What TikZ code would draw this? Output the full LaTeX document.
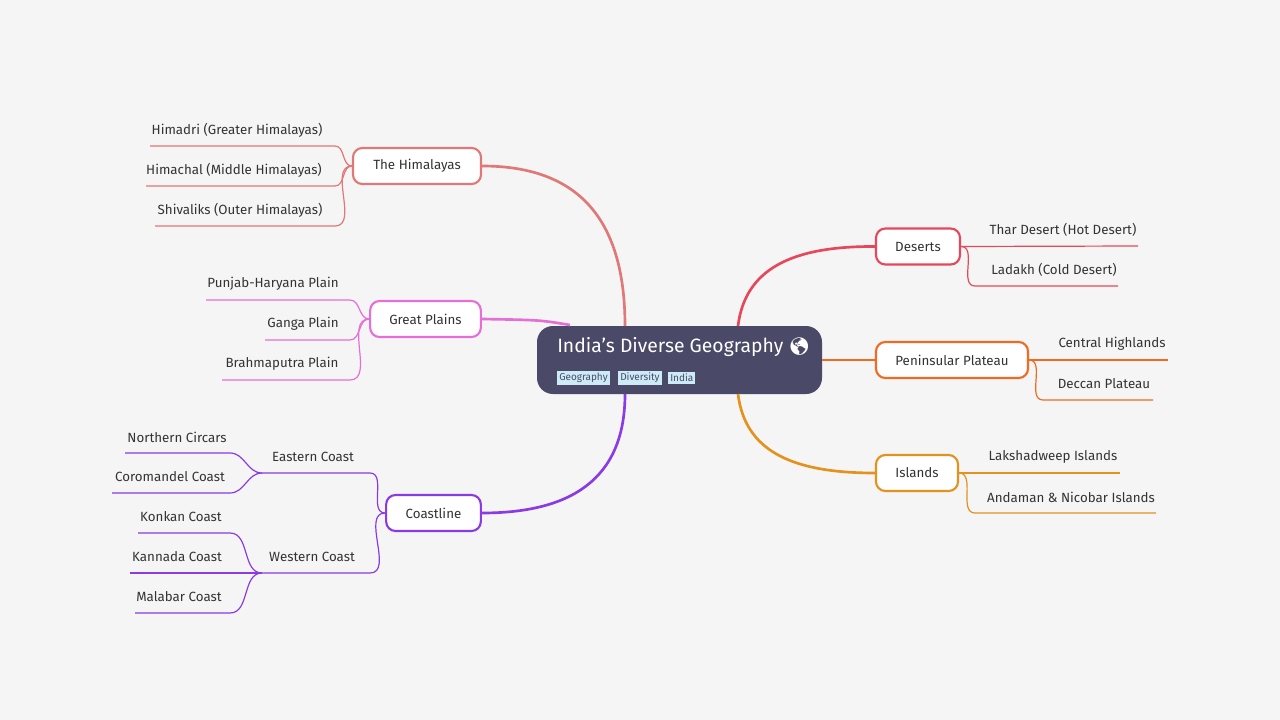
\documentclass[tikz,border=0pt]{standalone}
\usepackage{fontspec}
\setmainfont{Fira Sans}
\newfontfamily\emojifont{Noto Emoji}
\definecolor{bgc}{HTML}{F5F5F5}
\definecolor{rootc}{HTML}{4A4A68}
\definecolor{tagc}{HTML}{CDEBF7}
\definecolor{himc}{HTML}{E07878}
\definecolor{plac}{HTML}{E56FD6}
\definecolor{coac}{HTML}{8A3BE6}
\definecolor{desc}{HTML}{E5485A}
\definecolor{penc}{HTML}{F26A21}
\definecolor{islc}{HTML}{E3921E}
\definecolor{txtc}{HTML}{333333}
\tikzset{
  branch/.style={draw=#1,line width=1.6pt,fill=white,rounded corners=7pt,
    inner sep=0pt,minimum height=27pt,font=\fontsize{10}{12}\selectfont,text=txtc},
  leaf/.style={font=\fontsize{10}{12}\selectfont,text=txtc,inner sep=0pt},
  tagbox/.style={fill=tagc,inner sep=1.5pt,font=\fontsize{7.5}{9}\selectfont,text=rootc},
}
\begin{document}
\begin{tikzpicture}[x=0.75pt,y=-0.75pt]

\fill[bgc] (0,0) rectangle (1280,720);
\useasboundingbox (0,0) rectangle (1280,720);

% root
\node[fill=rootc,rounded corners=12pt,minimum width=213.75pt,minimum height=51pt] (root) at (679.5,360) {};
\node[text=white,font=\fontsize{14.5}{17}\selectfont,anchor=west,inner sep=0pt] (title) at (557,347) {India{\char39}s Diverse Geography {\emojifont\fontsize{13}{15}\selectfont 🌎}};
\node[tagbox,anchor=west] (tag1) at (557,378) {Geography};
\node[tagbox,anchor=west] (tag2) at (618,378) {Diversity};
\node[tagbox,anchor=west] (tag3) at (668,378) {India};

\coordinate (rtl) at (625,326) ;
\coordinate (rtp) at (570,325) ;
\coordinate (rbl) at (625,394) ;
\coordinate (rtr) at (738,326) ;
\coordinate (rbr) at (738,394) ;

% main branches
\node[branch=himc,minimum width=96pt] (him) at (417,166) {The Himalayas};
\node[branch=plac,minimum width=83pt] (pla) at (425.5,319) {Great Plains};
\node[branch=coac,minimum width=71pt] (coa) at (433.5,513) {Coastline};
\node[branch=desc,minimum width=63pt] (des) at (918,246.5) {Deserts};
\node[branch=penc,minimum width=114pt] (pen) at (952,360) {Peninsular Plateau};
\node[branch=islc,minimum width=61.5pt] (isl) at (917,473) {Islands};

\draw[himc,line width=2pt] (rtl) .. controls (625,210) and (570,166) .. (him.east) ;
\draw[plac,line width=2pt] (rtp) .. controls (540,320) .. (pla.east) ;
\draw[coac,line width=2pt] (rbl) .. controls (625,480) and (570,513) .. (coa.east) ;
\draw[desc,line width=2pt] (rtr) .. controls (745,270) and (790,246) .. (des.west) ;
\draw[penc,line width=2pt] (root.east |- pen.west) -- (pen.west) ;
\draw[islc,line width=2pt] (rbr) .. controls (745,450) and (790,473) .. (isl.west) ;

% Himalayas
\node[leaf] (hima) at (237,130) {Himadri (Greater Himalayas)};
\node[leaf] (himb) at (234,170) {Himachal (Middle Himalayas)};
\node[leaf] (himc) at (240,210) {Shivaliks (Outer Himalayas)};
\begin{scope}[himc,line width=0.9pt]
\draw (150,146) -- (335,146) to[out=0,in=180] (him.west) ;
\draw (146,186) -- (335,186) to[out=0,in=180] (him.west) ;
\draw (155,226) -- (335,226) to[out=0,in=180] (him.west) ;
\end{scope}

% Great Plains
\node[leaf] (plaa) at (273,284) {Punjab-Haryana Plain};
\node[leaf] (plab) at (303,324) {Ganga Plain};
\node[leaf] (plac) at (282,364) {Brahmaputra Plain};
\begin{scope}[plac,line width=0.9pt]
\draw (206,300) -- (350,300) to[out=0,in=180] (pla.west) ;
\draw (265,340) -- (350,340) to[out=0,in=180] (pla.west) ;
\draw (222,380) -- (350,380) to[out=0,in=180] (pla.west) ;
\end{scope}

% Coastline
\node[leaf] (east) at (313,457) {Eastern Coast};
\node[leaf] (west) at (312,557) {Western Coast};
\node[leaf] (easa) at (177,437) {Northern Circars};
\node[leaf] (easb) at (170,477) {Coromandel Coast};
\node[leaf] (wesa) at (181,517) {Konkan Coast};
\node[leaf] (wesb) at (177,557) {Kannada Coast};
\node[leaf] (wesc) at (179,597) {Malabar Coast};
\begin{scope}[coac,line width=0.9pt]
\draw (262,473) -- (370,473) to[out=0,in=180] (coa.west) ;
\draw (262,573) -- (370,573) to[out=0,in=180] (coa.west) ;
\draw (125,453) -- (230,453) to[out=0,in=180] (262,473) ;
\draw (112,493) -- (230,493) to[out=0,in=180] (262,473) ;
\draw (138,533) -- (230,533) to[out=0,in=180] (262,573) ;
\draw (130,573) -- (262,573) ;
\draw (135,613) -- (230,613) to[out=0,in=180] (262,573) ;
\end{scope}

% Deserts
\node[leaf] (desa) at (1063,230) {Thar Desert (Hot Desert)};
\node[leaf] (desb) at (1054,270) {Ladakh (Cold Desert)};
\begin{scope}[desc,line width=0.9pt]
\draw (des.east) -- (1138,246) ;
\draw (des.east) to[out=0,in=180] (975,286) -- (1118,286) ;
\end{scope}

% Peninsular Plateau
\node[leaf] (pena) at (1112,344) {Central Highlands};
\node[leaf] (penb) at (1104,384) {Deccan Plateau};
\begin{scope}[penc,line width=0.9pt]
\draw (pen.east) -- (1168,360) ;
\draw (pen.east) to[out=0,in=180] (1043,400) -- (1153,400) ;
\end{scope}

% Islands
\node[leaf] (isla) at (1053,457) {Lakshadweep Islands};
\node[leaf] (islb) at (1071,497) {Andaman \& Nicobar Islands};
\begin{scope}[islc,line width=0.9pt]
\draw (isl.east) -- (1120,473) ;
\draw (isl.east) to[out=0,in=180] (975,513) -- (1156,513) ;
\end{scope}

\end{tikzpicture}
\end{document}
